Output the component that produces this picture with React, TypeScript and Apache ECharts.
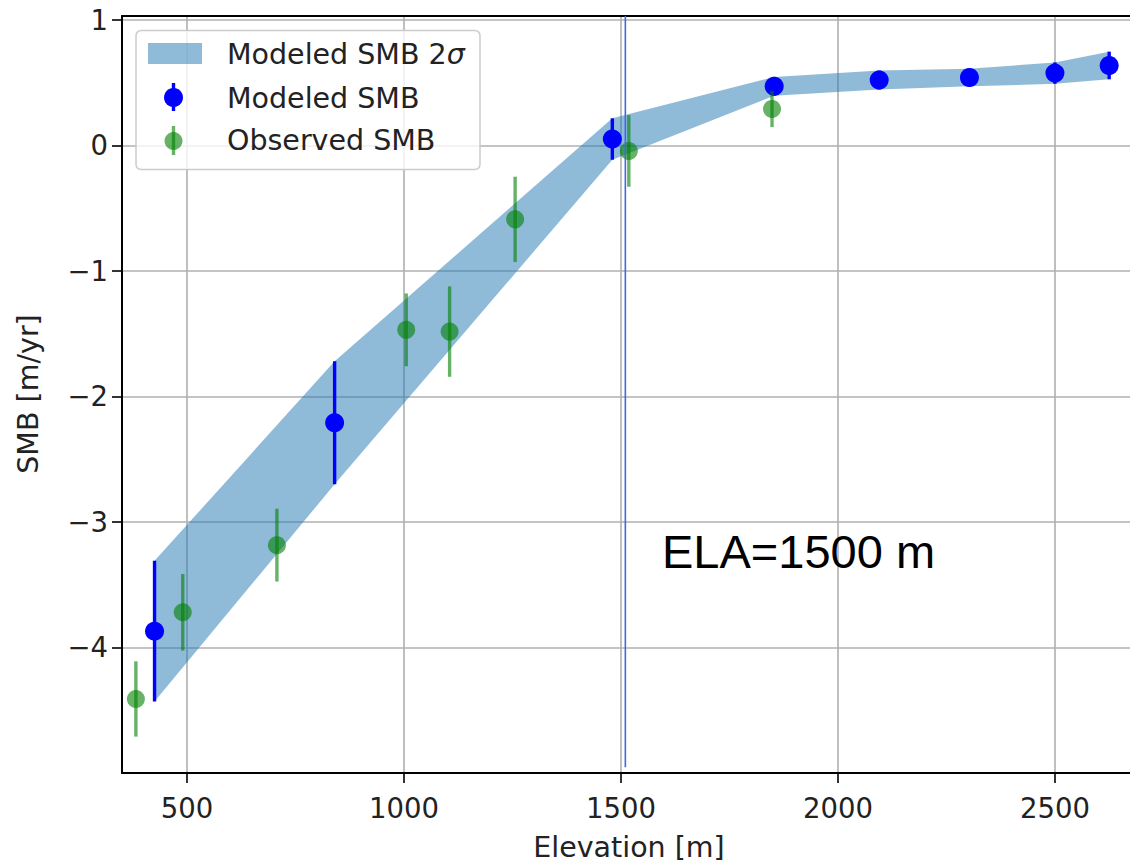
import React, { useEffect, useRef } from "react";
import * as echarts from "echarts";

const modeledElev = [425, 840, 1480, 1853, 2095, 2303, 2500, 2625];
const modeledSmb = [-3.87, -2.21, 0.05, 0.47, 0.52, 0.54, 0.575, 0.636];
const modeled2Sigma = [0.56, 0.49, 0.165, 0.075, 0.075, 0.07, 0.085, 0.11];

const observedElev = [382, 490, 707, 1005, 1105, 1256, 1518, 1848];
const observedSmb = [-4.41, -3.72, -3.185, -1.47, -1.484, -0.59, -0.045, 0.29];
const observedErr = [0.3, 0.305, 0.29, 0.29, 0.36, 0.34, 0.285, 0.145];

const xTicks = [500, 1000, 1500, 2000, 2500];
const yTicks = [-4, -3, -2, -1, 0, 1];
const elaElevation = 1510;
const elaText = "ELA=1500 m";

const FONT = "DejaVu Sans";
const BAND = "rgba(31,119,180,0.5)";
const BLUE = "#0000ff";
const GREEN = "rgba(0,128,0,0.6)";
const TXT = "#222";

function errRender(color: string, lw: number, r: number) {
  return (params: any, api: any) => {
    const x = api.value(0);
    const y = api.value(1);
    const e = api.value(2);
    const c = api.coord([x, y]);
    const t = api.coord([x, y + e]);
    const b = api.coord([x, y - e]);
    return {
      type: "group",
      children: [
        {
          type: "line",
          shape: { x1: c[0], y1: t[1], x2: c[0], y2: b[1] },
          style: { stroke: color, lineWidth: lw },
        },
        {
          type: "circle",
          shape: { cx: c[0], cy: c[1], r },
          style: { fill: color },
        },
      ],
    };
  };
}

export default function App() {
  const ref = useRef<HTMLDivElement>(null);
  useEffect(() => {
    if (!ref.current) return;
    const chart = echarts.init(ref.current, null, { renderer: "svg" });
    const modeledData = modeledElev.map((x, i) => [x, modeledSmb[i], modeled2Sigma[i]]);
    const observedData = observedElev.map((x, i) => [x, observedSmb[i], observedErr[i]]);
    const fmt = (v: number) => String(v).replace("-", "\u2212");

    chart.setOption({
      animation: false,
      grid: { left: 122, top: 16, right: 0, bottom: 89, show: false },
      xAxis: [
        {
          type: "value",
          min: 350,
          max: 2673,
          axisLine: { show: true, onZero: false, lineStyle: { color: "#000", width: 2 } },
          axisTick: { show: true, length: 10, customValues: xTicks, lineStyle: { color: "#000", width: 1.6 } },
          axisLabel: { customValues: xTicks, formatter: fmt, fontFamily: FONT, fontSize: 27.5, color: TXT, margin: 21 },
          splitLine: { show: true, lineStyle: { color: "#b0b0b0", width: 1.6 } },
        },
        {
          type: "value",
          position: "top",
          min: 350,
          max: 2673,
          axisLine: { show: true, onZero: false, lineStyle: { color: "#000", width: 2.2 } },
          axisTick: { show: false },
          axisLabel: { show: false },
          splitLine: { show: false },
        },
      ],
      yAxis: {
        type: "value",
        min: -5,
        max: 1.03,
        axisLine: { show: true, onZero: false, lineStyle: { color: "#000", width: 2 } },
        axisTick: { show: true, length: 10, customValues: yTicks, lineStyle: { color: "#000", width: 1.6 } },
        axisLabel: { customValues: yTicks, formatter: fmt, fontFamily: FONT, fontSize: 27.5, color: TXT, margin: 14 },
        splitLine: { show: true, lineStyle: { color: "#b0b0b0", width: 1.6 } },
      },
      series: [
        {
          type: "custom",
          name: "Modeled SMB 2σ",
          data: [[0]],
          z: 2,
          renderItem: (params: any, api: any) => {
            const upper = modeledElev.map((x, i) => api.coord([x, modeledSmb[i] + modeled2Sigma[i]]));
            const lower = modeledElev.map((x, i) => api.coord([x, modeledSmb[i] - modeled2Sigma[i]])).reverse();
            return {
              type: "polygon",
              shape: { points: upper.concat(lower) },
              style: { fill: BAND },
            };
          },
        },
        {
          type: "custom",
          name: "Modeled SMB",
          data: modeledData,
          z: 3,
          renderItem: errRender(BLUE, 3.4, 9.5),
        },
        {
          type: "custom",
          name: "Observed SMB",
          data: observedData,
          z: 4,
          renderItem: errRender(GREEN, 3.4, 9),
        },
        {
          type: "line",
          z: 5,
          symbol: "none",
          data: [
            [elaElevation, 1.03],
            [elaElevation, -4.955],
          ],
          lineStyle: { color: "#4169e1", width: 1.6 },
        },
      ],
      graphic: [
        {
          type: "rect",
          z: 100,
          shape: { x: 136, y: 30.5, width: 344, height: 139, r: 5 },
          style: { fill: "rgba(255,255,255,0.8)", stroke: "#cccccc", lineWidth: 1.5 },
        },
        {
          type: "rect",
          z: 101,
          shape: { x: 148, y: 43, width: 54, height: 21 },
          style: { fill: BAND },
        },
        {
          type: "line",
          z: 101,
          shape: { x1: 173.5, y1: 83, x2: 173.5, y2: 111 },
          style: { stroke: BLUE, lineWidth: 3.4 },
        },
        {
          type: "circle",
          z: 101,
          shape: { cx: 173.5, cy: 97.5, r: 9.5 },
          style: { fill: BLUE },
        },
        {
          type: "line",
          z: 101,
          shape: { x1: 173.5, y1: 126, x2: 173.5, y2: 155 },
          style: { stroke: GREEN, lineWidth: 3.4 },
        },
        {
          type: "circle",
          z: 101,
          shape: { cx: 173.5, cy: 141, r: 9 },
          style: { fill: GREEN },
        },
        {
          type: "text",
          z: 101,
          x: 227,
          y: 54,
          style: {
            text: "{a|Modeled SMB 2}{b|σ}",
            rich: {
              a: { fontFamily: FONT, fontSize: 28.5, fill: TXT },
              b: { fontFamily: FONT, fontSize: 28.5, fill: TXT, fontStyle: "italic" },
            },
            verticalAlign: "middle",
            align: "left",
          },
        },
        {
          type: "text",
          z: 101,
          x: 227,
          y: 98,
          style: { text: "Modeled SMB", fontFamily: FONT, fontSize: 28.5, fill: TXT, verticalAlign: "middle", align: "left" },
        },
        {
          type: "text",
          z: 101,
          x: 227,
          y: 140.5,
          style: { text: "Observed SMB", fontFamily: FONT, fontSize: 28.5, fill: TXT, verticalAlign: "middle", align: "left" },
        },
        {
          type: "text",
          x: 629,
          y: 847,
          style: { text: "Elevation [m]", fontFamily: FONT, fontSize: 28.5, fill: TXT, align: "center", verticalAlign: "middle" },
        },
        {
          type: "text",
          x: 28.5,
          y: 394,
          rotation: Math.PI / 2,
          style: { text: "SMB [m/yr]", fontFamily: FONT, fontSize: 28.5, fill: TXT, align: "center", verticalAlign: "middle" },
        },
        {
          type: "text",
          x: 662,
          y: 551,
          z: 50,
          style: { text: elaText, fontFamily: "Liberation Sans", fontSize: 47, fill: "#000", align: "left", verticalAlign: "middle" },
        },
      ],
    });
    return () => chart.dispose();
  }, []);
  return <div ref={ref} style={{ position: "absolute", left: 0, top: 0, width: 1130, height: 862 }} />;
}
